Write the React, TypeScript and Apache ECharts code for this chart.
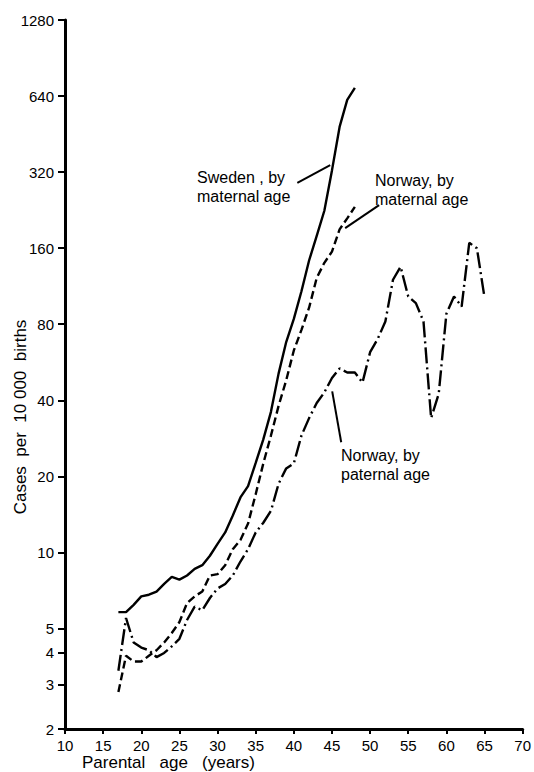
import React, { useEffect, useRef } from "react";
import * as echarts from "echarts";

const swedenAges = [17, 18, 19, 20, 21, 22, 23, 24, 25, 26, 27, 28, 29, 30, 31, 32, 33, 34, 35, 36, 37, 38, 39, 40, 41, 42, 43, 44, 45, 46, 47, 48];
const swedenMaternal = [5.8, 5.8, 6.2, 6.7, 6.8, 7.0, 7.5, 8.0, 7.8, 8.1, 8.6, 8.9, 9.7, 10.8, 12.0, 14.0, 16.5, 18.3, 22.6, 28, 36, 51, 68, 84, 108, 143, 179, 225, 325, 483, 618, 690];

const norwayMatAges = [17, 18, 19, 20, 21, 22, 23, 24, 25, 26, 27, 28, 29, 30, 31, 32, 33, 34, 35, 36, 37, 38, 39, 40, 41, 42, 43, 44, 45, 46, 47, 48];
const norwayMaternal = [2.8, 3.9, 3.7, 3.7, 3.9, 4.1, 4.4, 4.8, 5.3, 6.3, 6.7, 7.0, 8.1, 8.2, 8.9, 10.3, 11.2, 13, 17, 22.5, 29, 38, 48, 63, 76, 93, 122, 140, 155, 190, 210, 233];

const norwayPatAges = [17, 18, 19, 20, 21, 22, 23, 24, 25, 26, 27, 28, 29, 30, 31, 32, 33, 34, 35, 36, 37, 38, 39, 40, 41, 42, 43, 44, 45, 46, 47, 48, 49, 50, 51, 52, 53, 54, 55, 56, 57, 58, 59, 60, 61, 62, 63, 64, 65];
const norwayPaternal = [3.4, 5.5, 4.4, 4.2, 4.1, 3.85, 4.0, 4.25, 4.55, 5.4, 6.1, 5.9, 6.6, 7.2, 7.5, 8.1, 9.2, 10.3, 12.0, 13.1, 14.6, 18.7, 21.5, 22.5, 29, 34, 39, 43, 49, 53.5, 51.5, 51.5, 47, 62, 70, 82, 120, 135, 103, 97, 82, 34, 42.5, 88, 103, 94, 168, 160, 102];

const yTickValues = [2, 3, 4, 5, 10, 20, 40, 80, 160, 320, 640, 1280];

const xAxisTitle = "Parental   age   (years)";
const yAxisTitle = "Cases  per  10 000  births";

const annotations = [
  { lines: ["Sweden , by", "maternal age"], left: 197, top: 177 },
  { lines: ["Norway, by", "maternal age"], left: 375, top: 180 },
  { lines: ["Norway, by", "paternal age"], left: 341, top: 455 },
];

const pointers = [
  [[40.46, 290], [44.77, 341]],
  [[51.18, 237], [46.73, 192]],
  [[45.03, 43.4], [46.21, 27.3]],
];

const FONT = "'Liberation Sans', Arial, sans-serif";

export default function App() {
  const ref = useRef<HTMLDivElement>(null);
  useEffect(() => {
    if (!ref.current) return;
    const chart = echarts.init(ref.current, undefined, { renderer: "svg" });
    const toPairs = (xs: number[], ys: number[]) => xs.map((x, i) => [x, ys[i]]);
    const graphics: any[] = [];
    annotations.forEach((a) => {
      a.lines.forEach((t, i) => {
        graphics.push({
          type: "text",
          x: a.left,
          y: a.top + i * 19,
          style: {
            text: t,
            fill: "#000",
            font: `16px ${FONT}`,
            textAlign: "left",
            textVerticalAlign: "middle",
          },
        });
      });
    });
    graphics.push({
      type: "text",
      x: 82,
      y: 762,
      style: { text: xAxisTitle, fill: "#000", font: `17px ${FONT}`, textAlign: "left", textVerticalAlign: "middle" },
    });
    graphics.push({
      type: "text",
      x: 20,
      y: 417,
      rotation: Math.PI / 2,
      style: { text: yAxisTitle, fill: "#000", font: `17px ${FONT}`, textAlign: "center", textVerticalAlign: "middle" },
    });

    chart.setOption({
      animation: false,
      backgroundColor: "#fff",
      grid: { left: 65, right: 10, top: 20, bottom: 43, containLabel: false },
      xAxis: {
        type: "value",
        min: 10,
        max: 70,
        interval: 5,
        axisLine: { show: true, onZero: false, lineStyle: { color: "#000", width: 3 } },
        axisTick: { show: true, length: 5, lineStyle: { color: "#000", width: 2 } },
        axisLabel: { color: "#000", fontSize: 15, fontFamily: FONT, margin: 9, showMinLabel: true, showMaxLabel: true },
        splitLine: { show: false },
      },
      yAxis: {
        type: "log",
        logBase: 2,
        min: 2,
        max: 1280,
        axisLine: { show: true, onZero: false, lineStyle: { color: "#000", width: 3 } },
        axisTick: { show: true, length: 7, customValues: yTickValues, lineStyle: { color: "#000", width: 2 } },
        axisLabel: {
          customValues: yTickValues,
          formatter: (v: number) => String(Math.round(v)),
          color: "#000",
          fontSize: 15,
          fontFamily: FONT,
          margin: 11,
        },
        splitLine: { show: false },
      },
      graphic: graphics,
      series: [
        {
          name: "Sweden, by maternal age",
          type: "line",
          data: toPairs(swedenAges, swedenMaternal),
          symbol: "none",
          lineStyle: { color: "#000", width: 2.4, type: "solid" },
          markLine: {
            silent: true,
            symbol: ["none", "none"],
            label: { show: false },
            lineStyle: { color: "#000", width: 2, type: "solid" },
            data: pointers.map((p) => [{ coord: p[0] }, { coord: p[1] }]),
          },
        },
        {
          name: "Norway, by maternal age",
          type: "line",
          data: toPairs(norwayMatAges, norwayMaternal),
          symbol: "none",
          lineStyle: { color: "#000", width: 2.4, type: [8, 4] },
        },
        {
          name: "Norway, by paternal age",
          type: "line",
          data: toPairs(norwayPatAges, norwayPaternal),
          symbol: "none",
          lineStyle: { color: "#000", width: 2.4, type: [16, 4, 2, 4] },
        },
      ],
    });
    return () => chart.dispose();
  }, []);
  return <div ref={ref} style={{ position: "absolute", left: 0, top: 0, width: 534, height: 772 }} />;
}
